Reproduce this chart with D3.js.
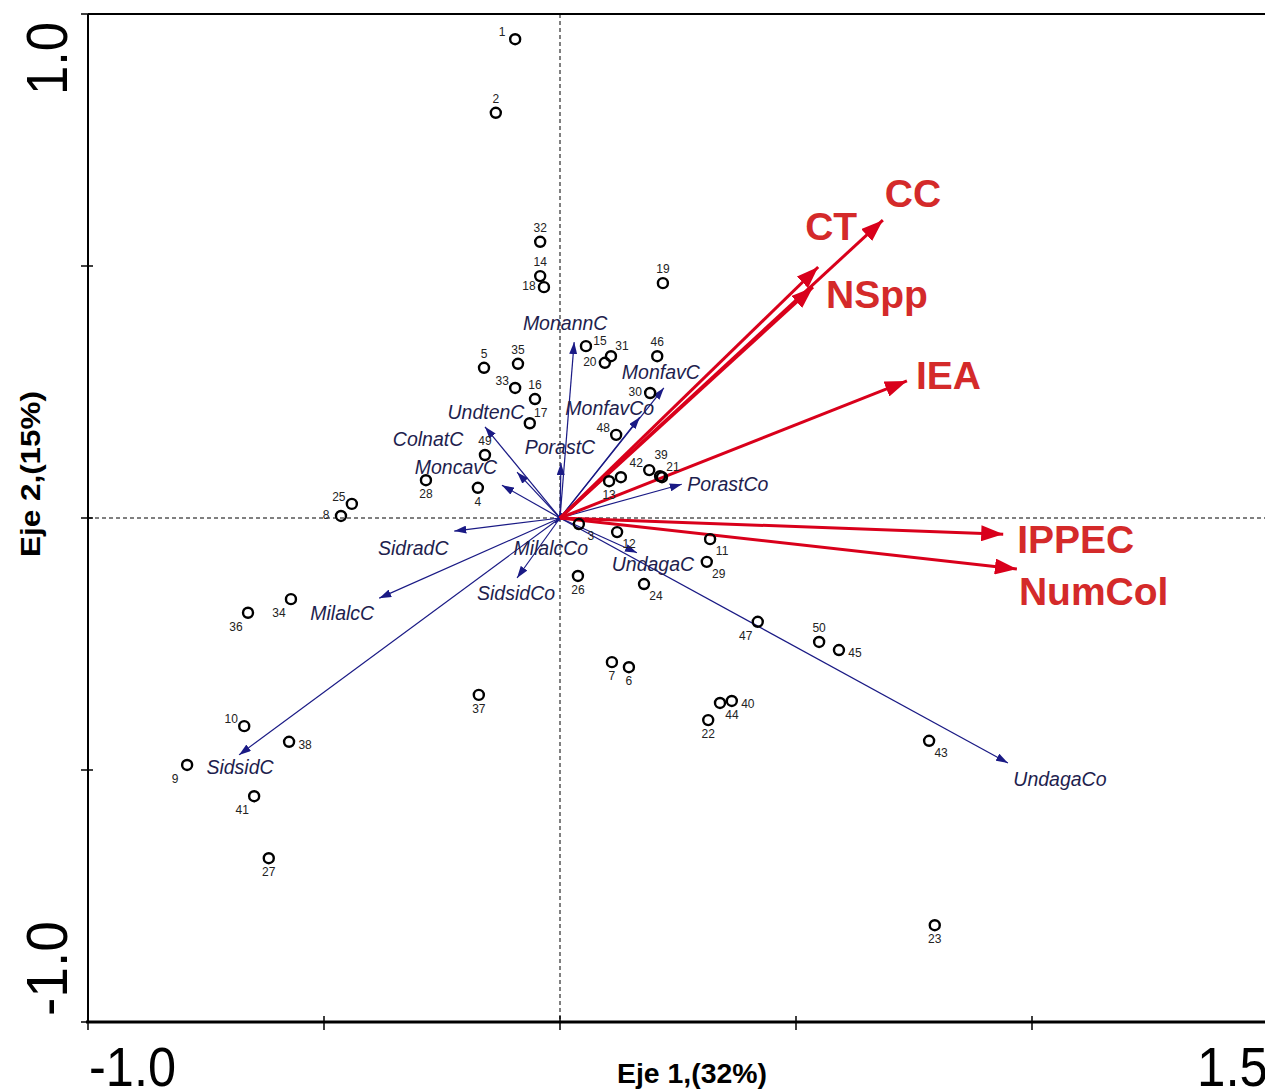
<!DOCTYPE html>
<html>
<head>
<meta charset="utf-8">
<script src="https://cdn.jsdelivr.net/npm/d3@7"></script>
<style>
  body { margin: 0; background: #fff; }
  svg { display: block; }
</style>
</head>
<body>
<div></div>
<script>
// site scores (axis 1, axis 2) and their numbers
const siteIds = ["1","2","3","4","5","6","7","8","9","10",
  "11","12","13","14","15","16","17","18","19","20",
  "21","22","23","24","25","26","27","28","29","30",
  "31","32","33","34","35","36","37","38","39","40",
  "41","42","43","44","45","46","47","48","49","50",""];
const siteX = [-0.095,-0.136,0.040,-0.174,-0.161,0.146,0.110,-0.464,-0.790,-0.669,
  0.318,0.121,0.104,-0.042,0.055,-0.053,-0.064,-0.034,0.218,0.095,
  0.216,0.314,0.794,0.178,-0.441,0.038,-0.617,-0.284,0.311,0.191,
  0.108,-0.042,-0.095,-0.570,-0.089,-0.661,-0.172,-0.574,0.212,0.364,
  -0.648,0.189,0.782,0.339,0.591,0.206,0.419,0.119,-0.159,0.549,0.129];
const siteY = [0.950,0.804,-0.012,0.060,0.298,-0.296,-0.286,0.004,-0.490,-0.413,
  -0.042,-0.028,0.073,0.480,0.341,0.236,0.188,0.458,0.466,0.308,
  0.081,-0.401,-0.808,-0.131,0.028,-0.115,-0.675,0.075,-0.087,0.248,
  0.321,0.548,0.258,-0.161,0.306,-0.188,-0.351,-0.444,0.083,-0.363,
  -0.552,0.095,-0.442,-0.367,-0.262,0.321,-0.206,0.165,0.125,-0.246,0.081];
// where each site number sits next to its circle
const siteLabelDir = ["nw","n","se","s","n","s","s","w","sw","nw",
  "se","se","s","n","en","n","ne","w","n","w",
  "ne","s","s","se","nw","s","s","s","se","w",
  "ne","n","nw","sw","n","sw","s","e","n2","e",
  "sw","nw","se","se","e","n","sw","nw","n","n",""];

// species arrows
const speciesNames = ["MonannC","MonfavC","MonfavCo","UndtenC","ColnatC","MoncavC","PorastC","PorastCo",
  "SidradC","MilalcC","MilalcCo","SidsidC","SidsidCo","UndagaC","UndagaCo"];
const speciesX = [0.030,0.220,0.169,-0.159,-0.091,-0.123,0.002,0.258,
  -0.224,-0.383,-0.011,-0.680,-0.091,0.163,0.949];
const speciesY = [0.349,0.258,0.200,0.181,0.091,0.065,0.109,0.067,
  -0.026,-0.159,-0.010,-0.470,-0.119,-0.069,-0.486];

// environmental variable arrows
const envNames = ["CC","CT","NSpp","IEA","IPPEC","NumCol"];
const envX = [0.684,0.547,0.536,0.735,0.939,0.968];
const envY = [0.591,0.498,0.458,0.272,-0.032,-0.101];

// axis tick labels
const xTickLabels = ["-1.0","1.5"];
const yTickLabels = ["1.0","-1.0"];

const width = 1265, height = 1091;
const box = { left: 88, right: 1268, top: 14, bottom: 1022 };

const svg = d3.select("body div")
  .append("svg")
  .attr("width", width)
  .attr("height", height)
  .style("font-family", "'Liberation Sans', Arial, sans-serif");

const x = d3.scaleLinear().domain([-1.0, 1.5]).range([box.left, box.right]);
const y = d3.scaleLinear().domain([-1.0, 1.0]).range([box.bottom, box.top]);

const blue = "#1a1a85", red = "#d9001b";

// arrow heads
const defs = svg.append("defs");
defs.append("marker")
  .attr("id", "headBlue")
  .attr("markerUnits", "userSpaceOnUse")
  .attr("viewBox", "0 0 12 8")
  .attr("refX", 12).attr("refY", 4)
  .attr("markerWidth", 12).attr("markerHeight", 8)
  .attr("orient", "auto")
  .append("path").attr("d", "M0,0 L12,4 L0,8 Z").attr("fill", blue);
defs.append("marker")
  .attr("id", "headRed")
  .attr("markerUnits", "userSpaceOnUse")
  .attr("viewBox", "0 0 22 16")
  .attr("refX", 22).attr("refY", 8)
  .attr("markerWidth", 22).attr("markerHeight", 16)
  .attr("orient", "auto")
  .append("path").attr("d", "M0,0 L22,8 L0,16 Z").attr("fill", red);

// dashed zero lines
svg.append("line")
  .attr("x1", x(0)).attr("x2", x(0))
  .attr("y1", box.top).attr("y2", box.bottom)
  .attr("stroke", "#000").attr("stroke-width", 1).attr("stroke-dasharray", "4,3");
svg.append("line")
  .attr("x1", box.left).attr("x2", box.right)
  .attr("y1", y(0)).attr("y2", y(0))
  .attr("stroke", "#000").attr("stroke-width", 1).attr("stroke-dasharray", "4,3");

// frame: top, left, bottom axis
svg.append("line")
  .attr("x1", box.left).attr("x2", box.right).attr("y1", box.top).attr("y2", box.top)
  .attr("stroke", "#000").attr("stroke-width", 2);
svg.append("line")
  .attr("x1", box.left).attr("x2", box.left).attr("y1", box.top).attr("y2", box.bottom)
  .attr("stroke", "#000").attr("stroke-width", 2);
svg.append("line")
  .attr("x1", box.left - 2).attr("x2", box.right).attr("y1", box.bottom).attr("y2", box.bottom)
  .attr("stroke", "#000").attr("stroke-width", 3);

// ticks crossing the axis lines
svg.append("g").selectAll("line")
  .data(d3.range(-1.0, 1.51, 0.5))
  .join("line")
  .attr("x1", d => x(d)).attr("x2", d => x(d))
  .attr("y1", box.bottom - 6).attr("y2", box.bottom + 8)
  .attr("stroke", "#000").attr("stroke-width", 1.5);
svg.append("g").selectAll("line")
  .data(d3.range(-1.0, 1.01, 0.5))
  .join("line")
  .attr("x1", box.left - 7).attr("x2", box.left + 5)
  .attr("y1", d => y(d)).attr("y2", d => y(d))
  .attr("stroke", "#000").attr("stroke-width", 1.5);

// big tick labels (only the ends are labelled), squeezed like the original
svg.append("text")
  .attr("x", x(-1.0) + 1).attr("y", box.bottom + 64)
  .attr("textLength", 87).attr("lengthAdjust", "spacingAndGlyphs")
  .style("font-size", "56px")
  .text(xTickLabels[0]);
svg.append("text")
  .attr("x", x(1.5) - 71).attr("y", box.bottom + 64)
  .attr("textLength", 71).attr("lengthAdjust", "spacingAndGlyphs")
  .style("font-size", "56px")
  .text(xTickLabels[1]);
svg.append("text")
  .attr("transform", `translate(67,95) rotate(-90)`)
  .attr("textLength", 73).attr("lengthAdjust", "spacingAndGlyphs")
  .style("font-size", "57px")
  .text(yTickLabels[0]);
svg.append("text")
  .attr("transform", `translate(67,1016) rotate(-90)`)
  .attr("textLength", 95).attr("lengthAdjust", "spacingAndGlyphs")
  .style("font-size", "57px")
  .text(yTickLabels[1]);

// axis titles
svg.append("text")
  .attr("x", 617).attr("y", 1083)
  .attr("textLength", 150).attr("lengthAdjust", "spacingAndGlyphs")
  .style("font-size", "27px")
  .style("font-weight", "bold")
  .text("Eje 1,(32%)");
svg.append("text")
  .attr("transform", `translate(40,557) rotate(-90)`)
  .attr("textLength", 166).attr("lengthAdjust", "spacingAndGlyphs")
  .style("font-size", "27px")
  .style("font-weight", "bold")
  .text("Eje 2,(15%)");

// species arrows
const species = speciesNames.map((n, i) => ({ name: n, x: speciesX[i], y: speciesY[i] }));
// label offsets from the arrow tip, px
const speciesLabelOff = {
  MonannC: [-9, -19], MonfavC: [-3, -16], MonfavCo: [-30, -9], UndtenC: [1, -15],
  ColnatC: [-89, -33], MoncavC: [-46, -18], PorastC: [-1, -16], PorastCo: [46, 0],
  SidradC: [-41, 17], MilalcC: [-37, 15], MilalcCo: [-4, 25], SidsidC: [1, 12],
  SidsidCo: [-1, 15], UndagaC: [16, 11], UndagaCo: [52, 16]
};

svg.append("g").selectAll("line")
  .data(species)
  .join("line")
  .attr("x1", x(0)).attr("y1", y(0))
  .attr("x2", d => x(d.x)).attr("y2", d => y(d.y))
  .attr("stroke", blue).attr("stroke-width", 1.2)
  .attr("marker-end", "url(#headBlue)");

// environmental arrows
const env = envNames.map((n, i) => ({ name: n, x: envX[i], y: envY[i] }));
const envLabelOff = {
  CC: [2, -27], CT: [-13, -41], NSpp: [13, 7], IEA: [9, -6], IPPEC: [14, 5], NumCol: [2, 22]
};

svg.append("g").selectAll("line")
  .data(env)
  .join("line")
  .attr("x1", x(0)).attr("y1", y(0))
  .attr("x2", d => x(d.x)).attr("y2", d => y(d.y))
  .attr("stroke", red).attr("stroke-width", 3)
  .attr("marker-end", "url(#headRed)");

// site circles
const sites = siteIds.map((id, i) => ({ id: id, x: siteX[i], y: siteY[i], dir: siteLabelDir[i] }));
svg.append("g").selectAll("circle")
  .data(sites)
  .join("circle")
  .attr("cx", d => x(d.x)).attr("cy", d => y(d.y))
  .attr("r", 5)
  .attr("fill", "none")
  .attr("stroke", "#000").attr("stroke-width", 2.4);

const dirOff = {
  n: [0, -14], n2: [1, -21], s: [0, 14], e: [16, 3], en: [14, -5], w: [-15, -1],
  ne: [11, -10], nw: [-13, -7], se: [12, 12], sw: [-12, 14], "": [0, 0]
};
svg.append("g").selectAll("text")
  .data(sites)
  .join("text")
  .attr("x", d => x(d.x) + dirOff[d.dir][0])
  .attr("y", d => y(d.y) + dirOff[d.dir][1])
  .attr("dy", "0.35em")
  .attr("text-anchor", "middle")
  .style("font-size", "12px")
  .style("fill", "#222")
  .text(d => d.id);

// species labels
svg.append("g").selectAll("text")
  .data(species)
  .join("text")
  .attr("x", d => x(d.x) + speciesLabelOff[d.name][0])
  .attr("y", d => y(d.y) + speciesLabelOff[d.name][1])
  .attr("dy", "0.35em")
  .attr("text-anchor", "middle")
  .style("font-size", "19.5px")
  .style("font-style", "italic")
  .style("fill", "#1e1e4e")
  .text(d => d.name);

// environmental labels
svg.append("g").selectAll("text")
  .data(env)
  .join("text")
  .attr("x", d => x(d.x) + envLabelOff[d.name][0])
  .attr("y", d => y(d.y) + envLabelOff[d.name][1])
  .attr("dy", "0.36em")
  .attr("text-anchor", "start")
  .style("font-size", "39px")
  .style("font-weight", "bold")
  .style("fill", "#d42a2a")
  .text(d => d.name);
</script>
</body>
</html>
